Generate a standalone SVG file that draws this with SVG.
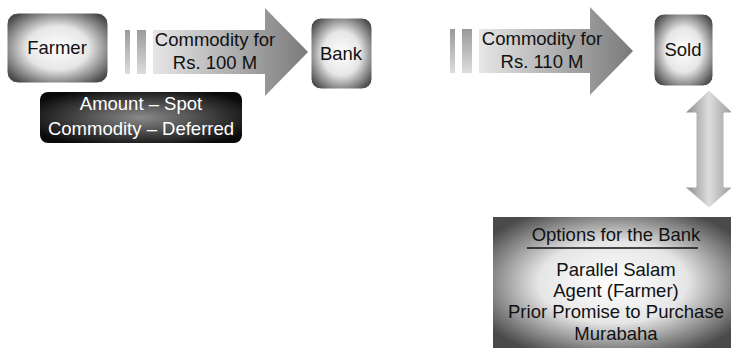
<svg xmlns="http://www.w3.org/2000/svg" width="731" height="350" viewBox="0 0 731 350">
<defs>
<radialGradient id="light" cx="50%" cy="50%" r="62%">
<stop offset="0" stop-color="#ffffff"/>
<stop offset="0.5" stop-color="#e6e6e6"/>
<stop offset="1" stop-color="#4a4a4a"/>
</radialGradient>
<radialGradient id="dark" cx="50%" cy="50%" r="60%">
<stop offset="0" stop-color="#8a8a8a"/>
<stop offset="1" stop-color="#0a0a0a"/>
</radialGradient>
<linearGradient id="harrow" x1="0" y1="0" x2="1" y2="0">
<stop offset="0" stop-color="#e6e6e6"/>
<stop offset="1" stop-color="#7a7a7a"/>
</linearGradient>
<linearGradient id="bar" x1="0" y1="0" x2="0" y2="1">
<stop offset="0" stop-color="#9a9a9a"/>
<stop offset="1" stop-color="#dddddd"/>
</linearGradient>
<linearGradient id="varrow" x1="0" y1="0" x2="1" y2="0">
<stop offset="0" stop-color="#888888"/>
<stop offset="0.5" stop-color="#dddddd"/>
<stop offset="1" stop-color="#999999"/>
</linearGradient>
</defs>
<style>
text{font-family:"Liberation Sans",Arial,sans-serif;font-size:18.5px;text-anchor:middle;fill:#111}
.w{fill:#fff}
.node{stroke:#fff;stroke-width:1}
</style>
<g id="connectors">
<g id="arrow1">
<rect x="125" y="30" width="5" height="44" fill="url(#bar)"/>
<rect x="137" y="30" width="9" height="44" fill="url(#bar)"/>
<polygon points="153,30 265,30 265,8 308,52 265,96 265,74 153,74" fill="url(#harrow)"/>
<text x="215" y="46">Commodity for</text>
<text x="215" y="69">Rs. 100 M</text>
</g>
<g id="arrow2">
<rect x="450" y="29" width="5" height="44" fill="url(#bar)"/>
<rect x="462" y="29" width="10" height="44" fill="url(#bar)"/>
<polygon points="479,29 590,29 590,7 633,51 590,95 590,73 479,73" fill="url(#harrow)"/>
<text x="542" y="45">Commodity for</text>
<text x="542" y="68">Rs. 110 M</text>
</g>
<g id="arrow3">
<polygon points="709,90 733,113 724,113 724,187 733,187 709,208 685,187 696,187 696,113 685,113" fill="url(#varrow)" stroke="#fff" stroke-width="1"/>
</g>
</g>
<g id="farmer">
<rect class="node" x="7" y="13" width="101" height="70" rx="11" fill="url(#light)"/>
<text x="57" y="54">Farmer</text>
</g>
<g id="bank">
<rect class="node" x="311" y="18" width="61" height="71" rx="10" fill="url(#light)"/>
<text x="341" y="60">Bank</text>
</g>
<g id="sold">
<rect class="node" x="654" y="14" width="59" height="72" rx="10" fill="url(#light)"/>
<text x="683" y="56">Sold</text>
</g>
<g id="terms">
<rect x="40" y="92" width="202" height="51" rx="8" fill="url(#dark)"/>
<text class="w" x="141" y="110">Amount – Spot</text>
<text class="w" x="141" y="135">Commodity – Deferred</text>
</g>
<g id="options">
<rect x="493" y="217" width="240" height="131" fill="url(#light)"/>
<text x="616" y="241">Options for the Bank</text>
<line x1="527" y1="248" x2="698" y2="248" stroke="#111" stroke-width="1.5"/>
<text x="616" y="276">Parallel Salam</text>
<text x="616" y="297">Agent (Farmer)</text>
<text x="616" y="318">Prior Promise to Purchase</text>
<text x="616" y="340">Murabaha</text>
</g>
</svg>
